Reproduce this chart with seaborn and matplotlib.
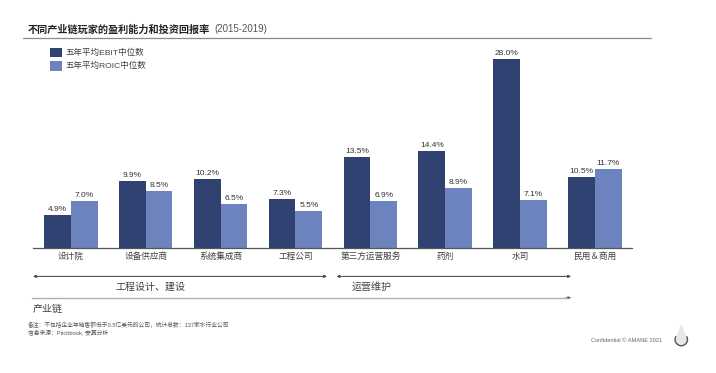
import matplotlib
matplotlib.use("Agg")
import matplotlib.pyplot as plt
from matplotlib.patches import Rectangle, FancyArrowPatch
import numpy as np
import pandas as pd
import seaborn as sns

sns.set_theme(style="white")
FONT = ['Liberation Sans', 'Noto Sans CJK SC', 'DejaVu Sans']
plt.rcParams['font.family'] = FONT

categories = ["设计院", "设备供应商", "系统集成商", "工程公司", "第三方运营服务", "药剂", "水司", "民用＆商用"]
ebit = [4.9, 9.9, 10.2, 7.3, 13.5, 14.4, 28.0, 10.5]
roic = [7.0, 8.5, 6.5, 5.5, 6.9, 8.9, 7.1, 11.7]
series_names = ["五年平均EBIT中位数", "五年平均ROIC中位数"]
title = "不同产业链玩家的盈利能力和投资回报率"
title_years = "(2015-2019)"
span_left = "工程设计、建设"
span_right = "运营维护"
chain_label = "产业链"
note1 = "备注：不包括企业年销售额低于0.5亿美元的公司，统计总数：137家水行业公司"
note2 = "信息来源：Pitchbook, 安蔓分析"
footer = "Confidential © AMANE 2021"

W, H = 716, 373
DARK, LIGHT = "#2f4272", "#6d83bd"
TXT = "#404040"

df = pd.DataFrame({"cat": categories * 2, "val": ebit + roic,
                   "series": [series_names[0]] * 8 + [series_names[1]] * 8})

fig = plt.figure(figsize=(W / 100, H / 100), dpi=100, facecolor="white")
# axes spans x 33.4..632.4, baseline y=248; 28.0 reaches y=59
top_px = 59 - (248 - 59) * (30 / 28 - 1)
bottom_px = 248
ax = fig.add_axes([33.4 / W, 1 - bottom_px / H, 599 / W, (bottom_px - top_px) / H])
sns.barplot(data=df, x="cat", y="val", hue="series", order=categories,
            hue_order=series_names, palette=[DARK, LIGHT], width=0.715,
            saturation=1, dodge=True, legend=False, linewidth=0, gap=0, ax=ax)
ax.set_ylim(0, 30)
ax.set_xlim(-0.5, 7.5)
ax.set_xlabel("")
ax.set_ylabel("")
ax.set_yticks([])
sns.despine(ax=ax, left=True)
ax.spines["bottom"].set_color("#555555")
ax.spines["bottom"].set_linewidth(0.9)
ax.tick_params(axis="x", length=0, pad=3, labelsize=6.25, labelcolor=TXT)
for cont in ax.containers:
    ax.bar_label(cont, fmt="%.1f%%", fontsize=6, color="#333333", padding=1.5)


def px(x, y):
    return x / W, 1 - y / H


def text(x, y, s, **kw):
    kw.setdefault("va", "center")
    fig.text(*px(x, y), s, **kw)


def hline(x0, x1, y, color, lw):
    fig.add_artist(plt.Line2D([x0 / W, x1 / W], [1 - y / H] * 2, color=color, lw=lw,
                              transform=fig.transFigure))


def arrow(x0, x1, y, color, lw, style):
    fig.add_artist(FancyArrowPatch(
        px(x0, y), px(x1, y), transform=fig.transFigure, arrowstyle=style,
        mutation_scale=4, color=color, lw=lw, shrinkA=0, shrinkB=0))


# title
text(28, 29.5, title, fontsize=7.3, fontweight="bold", color="#222222")
text(214, 29.5, title_years, fontsize=7, color="#555555")
hline(23, 651, 37.5, "#8a8a8a", 0.9)

# legend
for y, c, s in [(52.5, DARK, series_names[0]), (66, LIGHT, series_names[1])]:
    fig.add_artist(Rectangle(px(50, y + 4.5), 12 / W, 9 / H, transform=fig.transFigure, color=c, lw=0))
    text(66, y, s, fontsize=6.1, color=TXT)

# spans
arrow(33, 327, 276.4, "#44495a", 0.75, "<|-|>")
arrow(336.5, 571, 276.4, "#44495a", 0.75, "<|-|>")
text(150, 286.3, span_left, fontsize=7.2, color=TXT, ha="center")
text(372, 287.3, span_right, fontsize=7.2, color=TXT, ha="center")
hline(32, 568, 297.8, "#b0b0b0", 1.0)
arrow(566, 571, 297.8, "#44495a", 0.6, "-|>")
text(33, 309, chain_label, fontsize=7.2, color=TXT)

# notes
text(28, 325, note1, fontsize=4.15, color="#555555")
text(28, 332, note2, fontsize=4.15, color="#555555")
text(591, 340, footer, fontsize=4.1, color="#666666")

# droplet logo: pale teardrop with a dark lower rim
cx, cy, r = 681.3, 339.5, 6.2
t_low = np.linspace(-0.25 * np.pi, 1.25 * np.pi, 60)
drop_x = np.r_[cx + r * np.cos(t_low), cx]
drop_y = np.r_[cy + r * np.sin(t_low), cy - 16]
fig.add_artist(plt.Polygon(np.c_[drop_x / W, 1 - drop_y / H], closed=True,
                           transform=fig.transFigure, facecolor="#e8e8e8", lw=0))
t_rim = np.linspace(-0.15 * np.pi, 1.15 * np.pi, 40)
fig.add_artist(plt.Line2D((cx + r * np.cos(t_rim)) / W, 1 - (cy + r * np.sin(t_rim)) / H,
                          color="#555555", lw=1.0, transform=fig.transFigure))

fig.savefig("out.png", dpi=100, facecolor="white")
